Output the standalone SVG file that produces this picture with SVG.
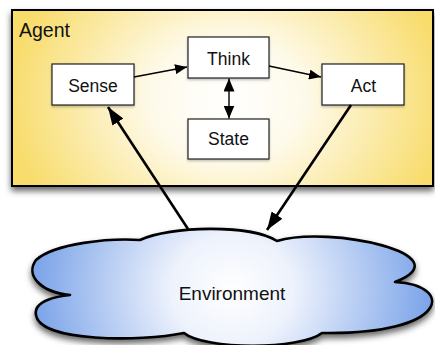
<svg xmlns="http://www.w3.org/2000/svg" width="435" height="345" viewBox="0 0 435 345">
  <defs>
    <radialGradient id="agentFill" gradientUnits="userSpaceOnUse" cx="228" cy="100" r="220" gradientTransform="translate(228 100) scale(1 0.8) translate(-228 -100)">
      <stop offset="0" stop-color="#ffffff"/>
      <stop offset="0.35" stop-color="#fefaea"/>
      <stop offset="0.7" stop-color="#fbeaa6"/>
      <stop offset="1" stop-color="#f8dc6c"/>
    </radialGradient>
    <radialGradient id="cloudFill" gradientUnits="userSpaceOnUse" cx="232" cy="290" r="205" gradientTransform="translate(232 290) scale(1 0.9) translate(-232 -290)">
      <stop offset="0" stop-color="#ffffff"/>
      <stop offset="0.3" stop-color="#edf2fc"/>
      <stop offset="1" stop-color="#76a0e8"/>
    </radialGradient>
    <filter id="shadow" x="-10%" y="-10%" width="120%" height="130%">
      <feDropShadow dx="0" dy="4" stdDeviation="3" flood-color="#000" flood-opacity="0.6"/>
    </filter>
    <filter id="softShadow" x="-10%" y="-10%" width="120%" height="130%">
      <feDropShadow dx="0" dy="1.5" stdDeviation="1" flood-color="#000" flood-opacity="0.25"/>
    </filter>
    <marker id="headSmall" markerUnits="userSpaceOnUse" markerWidth="12" markerHeight="10" refX="12" refY="5" orient="auto-start-reverse">
      <path d="M0,0 L12,5 L0,10 Z" fill="#000"/>
    </marker>
    <marker id="headMid" markerUnits="userSpaceOnUse" markerWidth="13" markerHeight="11" refX="13" refY="5.5" orient="auto-start-reverse">
      <path d="M0,0 L13,5.5 L0,11 Z" fill="#000"/>
    </marker>
    <marker id="headLarge" markerUnits="userSpaceOnUse" markerWidth="18" markerHeight="13" refX="18" refY="6.5" orient="auto">
      <path d="M0,0 L18,6.5 L0,13 Z" fill="#000"/>
    </marker>
  </defs>
  <style>
    .label { font-family: "Liberation Sans", Arial, sans-serif; fill: #111; }
    .box rect { fill: #ffffff; stroke: #222; stroke-width: 1.2; }
    .box text { font-size: 17.5px; text-anchor: middle; }
    .thin { stroke: #000; stroke-width: 1.4; fill: none; }
    .thick { stroke: #000; stroke-width: 2.6; fill: none; }
  </style>

  <!-- agent container -->
  <g id="agent">
    <rect x="12" y="10" width="421" height="176" fill="url(#agentFill)" stroke="#000" stroke-width="2" filter="url(#shadow)"/>
    <text class="label" x="19" y="37" font-size="19.5">Agent</text>
  </g>

  <!-- environment cloud -->
  <g id="environment">
    <path d="M140,240 C170,226 250,224 277,241 C330,225 465,255 395,282 C455,285 450,335 322,333 C300,350 205,350 184,333 C140,342 40,342 36,315 C33,300 60,296 70,295 C40,292 25,275 36,260 C55,243 110,238 140,240 Z"
          fill="url(#cloudFill)" stroke="#000" stroke-width="2.6" stroke-linejoin="round" filter="url(#shadow)"/>
    <text class="label" x="232" y="300" font-size="19" text-anchor="middle">Environment</text>
  </g>

  <g id="sense" class="box">
    <rect x="52" y="64" width="82" height="41" filter="url(#softShadow)"/>
    <text class="label" x="93" y="92">Sense</text>
  </g>
  <g id="think" class="box">
    <rect x="188" y="37" width="81" height="41" filter="url(#softShadow)"/>
    <text class="label" x="228.5" y="65">Think</text>
  </g>
  <g id="state" class="box">
    <rect x="188" y="119" width="81" height="40" filter="url(#softShadow)"/>
    <text class="label" x="228.5" y="145">State</text>
  </g>
  <g id="act" class="box">
    <rect x="322" y="64" width="82" height="41" filter="url(#softShadow)"/>
    <text class="label" x="363.5" y="92">Act</text>
  </g>

  <!-- connectors -->
  <g id="connectors">
    <line class="thin" x1="134" y1="77" x2="187" y2="67" marker-end="url(#headSmall)"/>
    <line class="thin" x1="269" y1="66" x2="321" y2="77" marker-end="url(#headSmall)"/>
    <line class="thin" x1="229" y1="78.5" x2="229" y2="118.5" marker-start="url(#headMid)" marker-end="url(#headMid)"/>
    <line class="thick" x1="188" y1="229" x2="108" y2="107" marker-end="url(#headLarge)"/>
    <line class="thick" x1="351" y1="105" x2="267" y2="230" marker-end="url(#headLarge)"/>
  </g>
</svg>
